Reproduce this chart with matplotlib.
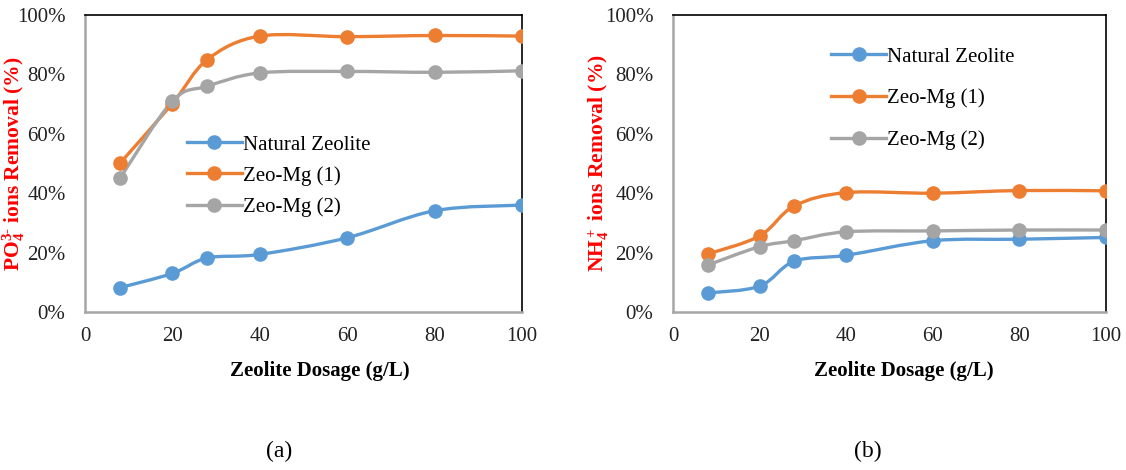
import numpy as np
import matplotlib
matplotlib.use("Agg")
import matplotlib.pyplot as plt
from matplotlib.path import Path
from matplotlib.patches import PathPatch
from matplotlib.ticker import FuncFormatter

plt.rcParams['font.family'] = ['Liberation Serif', 'DejaVu Serif']
plt.rcParams['mathtext.fontset'] = 'custom'
plt.rcParams['mathtext.rm'] = 'Liberation Serif:bold'
plt.rcParams['mathtext.it'] = 'Liberation Serif:bold'
plt.rcParams['mathtext.bf'] = 'Liberation Serif:bold'

# data
dosage = [8, 20, 28, 40, 60, 80, 100]
series_names = ["Natural Zeolite", "Zeo-Mg (1)", "Zeo-Mg (2)"]
colors = ["#5B9BD5", "#ED7D31", "#A5A5A5"]

po4_natural = [8.2, 13.0, 18.2, 19.4, 25.0, 34.1, 36.0]
po4_zeo1 = [50.1, 70.2, 85.0, 92.9, 92.7, 93.1, 92.9]
po4_zeo2 = [45.0, 71.0, 76.0, 80.5, 81.0, 80.7, 81.2]

nh4_natural = [6.4, 8.7, 17.1, 19.1, 24.0, 24.5, 25.1]
nh4_zeo1 = [19.5, 25.6, 35.7, 40.2, 40.0, 40.9, 40.8]
nh4_zeo2 = [15.8, 22.0, 24.0, 27.0, 27.3, 27.6, 27.6]


def smooth_path(x, y):
    # Catmull-Rom style bezier through the points (like excel smoothed lines)
    x = np.asarray(x, float)
    y = np.asarray(y, float)
    verts = [(x[0], y[0])]
    codes = [Path.MOVETO]
    n = len(x)
    for i in range(n - 1):
        x0, y0 = (x[i - 1], y[i - 1]) if i > 0 else (x[i], y[i])
        x3, y3 = (x[i + 2], y[i + 2]) if i + 2 < n else (x[i + 1], y[i + 1])
        c1 = (x[i] + (x[i + 1] - x0) / 6, y[i] + (y[i + 1] - y0) / 6)
        c2 = (x[i + 1] - (x3 - x[i]) / 6, y[i + 1] - (y3 - y[i]) / 6)
        verts += [c1, c2, (x[i + 1], y[i + 1])]
        codes += [Path.CURVE4] * 3
    return Path(verts, codes)


def draw_panel(ax, values, ylabel, ylab_x, xlab_x, leg_anchor, leg_spacing):
    for vals, name, c in zip(values, series_names, colors):
        ax.add_patch(PathPatch(smooth_path(dosage, vals), fill=False,
                               edgecolor=c, lw=2.4, zorder=2))
        ax.plot(dosage, vals, ls='none', marker='o', ms=9.5, color=c, zorder=3)
        ax.plot([], [], '-o', color=c, lw=2.4, ms=9.5, label=name)
    ax.set_xlim(0, 100)
    ax.set_ylim(0, 100)
    ax.set_xticks(range(0, 101, 20))
    ax.set_yticks(range(0, 101, 20))
    ax.yaxis.set_major_formatter(FuncFormatter(lambda v, p: f"{v:.0f}%"))
    ax.tick_params(length=0, labelsize=15, colors='#222222')
    ax.tick_params(axis='y', pad=14)
    ax.tick_params(axis='x', pad=11)
    for s in ['top', 'right']:
        ax.spines[s].set_color('black')
        ax.spines[s].set_linewidth(1.2)
    for s in ['left', 'bottom']:
        ax.spines[s].set_color('#A6A6A6')
        ax.spines[s].set_linewidth(1.8)
    ax.set_xlabel("Zeolite Dosage (g/L)", fontsize=15, fontweight='bold')
    ax.xaxis.set_label_coords(xlab_x, -0.165)
    ax.set_ylabel(ylabel, fontsize=15.5, fontweight='bold', color='red')
    ax.yaxis.set_label_coords(ylab_x, 0.5)
    ax.legend(loc='upper left', bbox_to_anchor=leg_anchor, frameon=False,
              fontsize=15, handlelength=2.65, handletextpad=0.05,
              labelspacing=leg_spacing, borderaxespad=0, borderpad=0)


fig = plt.figure(figsize=(11.26, 4.70), dpi=100)
ax1 = fig.add_axes([85 / 1126, 1 - 312 / 470, 437 / 1126, 297 / 470])
ax2 = fig.add_axes([673 / 1126, 1 - 312 / 470, 433 / 1126, 297 / 470])

draw_panel(ax1, [po4_natural, po4_zeo1, po4_zeo2],
           r"PO$_4^{3\text{-}}$ ions Removal (%)", -0.133, 0.538,
           (0.233, 0.596), 0.55)
draw_panel(ax2, [nh4_natural, nh4_zeo1, nh4_zeo2],
           r"NH$_4^+$ ions Removal (%)", -0.143, 0.533,
           (0.365, 0.892), 1.05)

fig.text(279 / 1126, 1 - 451 / 470, "(a)", fontsize=17, ha='center', va='center')
fig.text(868 / 1126, 1 - 451 / 470, "(b)", fontsize=17, ha='center', va='center')

fig.savefig("out.png", dpi=100)
